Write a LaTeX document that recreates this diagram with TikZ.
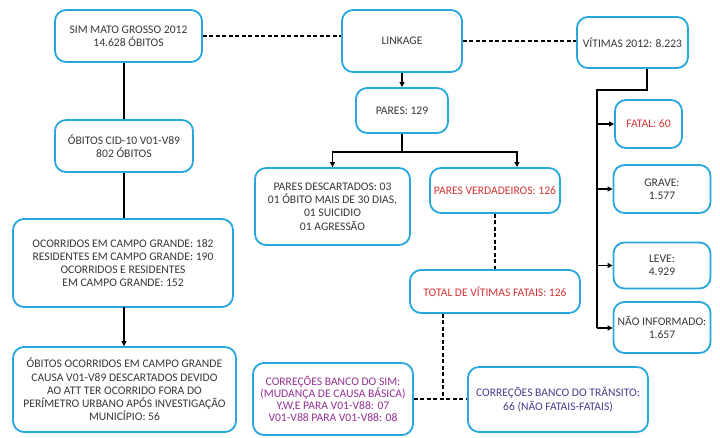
\documentclass[tikz,border=0pt]{standalone}
\usepackage{fontspec}
\setmainfont{Carlito}
\usetikzlibrary{arrows.meta}
\definecolor{boxblue}{RGB}{38,168,222}
\definecolor{txtgray}{RGB}{55,55,55}
\definecolor{txtred}{RGB}{214,52,52}
\definecolor{txtmag}{RGB}{150,48,150}
\definecolor{txtind}{RGB}{78,58,140}
\tikzset{
  box/.style={draw=boxblue, line width=1.8pt, rounded corners=11pt, fill=white,
    align=center, inner sep=2pt, text=txtgray,
    font=\fontsize{11.6}{13.2}\selectfont},
  link/.style={line width=1.8pt, black},
  dlink/.style={line width=1.6pt, black, dash pattern=on 4pt off 2.5pt},
  arr/.style={link, -{Triangle[length=5pt,width=5pt]}}
}
\begin{document}
\begin{tikzpicture}[x=1pt,y=-1pt]
\useasboundingbox (0,0) rectangle (720,437);
\fill[white] (0,0) rectangle (720,437);

% left column: SIM chain
\node[box, minimum width=147pt, minimum height=52pt] (sim) at (128.5,36)
  {SIM MATO GROSSO 2012\\14.628 ÓBITOS};
\node[box, minimum width=138pt, minimum height=52pt] (cid) at (124,146)
  {ÓBITOS CID-10 V01-V89\\802 ÓBITOS};
\node[box, minimum width=220pt, minimum height=88pt] (ocor) at (123,263)
  {OCORRIDOS EM CAMPO GRANDE: 182\\RESIDENTES EM CAMPO GRANDE: 190\\OCORRIDOS E RESIDENTES\\ EM CAMPO GRANDE: 152};
\node[box, minimum width=223pt, minimum height=85pt] (mun) at (124.5,389.5)
  {ÓBITOS OCORRIDOS EM CAMPO GRANDE\\CAUSA V01-V89 DESCARTADOS DEVIDO\\AO ATT TER OCORRIDO FORA DO\\PERÍMETRO URBANO APÓS INVESTIGAÇÃO\\MUNICÍPIO: 56};

% middle column: linkage
\node[box, minimum width=120pt, minimum height=62pt] (lnk) at (402,41) {LINKAGE};
\node[box, minimum width=92pt, minimum height=45pt] (pares) at (402,110.5) {PARES: 129};
\node[box, minimum width=155pt, minimum height=77pt] (desc) at (332.5,206.5)
  {PARES DESCARTADOS: 03\\01 ÓBITO MAIS DE 30 DIAS,\\01 SUICIDIO\\01 AGRESSÃO};
\node[box, minimum width=130pt, minimum height=45pt, text=txtred] (verd) at (495,190.5)
  {PARES VERDADEIROS: 126};
\node[box, minimum width=170pt, minimum height=43pt, text=txtred] (total) at (495,291.5)
  {TOTAL DE VÍTIMAS FATAIS: 126};
\node[box, minimum width=160pt, minimum height=72pt, text=txtmag,
  font=\fontsize{11.6}{12}\selectfont] (csim) at (333,399)
  {CORREÇÕES BANCO DO SIM:\\(MUDANÇA DE CAUSA BÁSICA)\\Y,W,E PARA V01-V88: 07\\V01-V88 PARA V01-V88: 08};
\node[box, minimum width=180pt, minimum height=65pt, text=txtind] (ctran) at (558,399.5)
  {CORREÇÕES BANCO DO TRÂNSITO:\\66 (NÃO FATAIS-FATAIS)};

% right column: victims
\node[box, minimum width=111pt, minimum height=51pt] (vit) at (632.5,42.5) {VÍTIMAS 2012: 8.223};
\node[box, minimum width=67pt, minimum height=48pt, text=txtred] (fatal) at (648.5,124) {FATAL: 60};
\node[box, minimum width=97pt, minimum height=48pt] (grave) at (662,189) {GRAVE:\\1.577};
\node[box, minimum width=97pt, minimum height=46pt] (leve) at (662,265.5) {LEVE:\\4.929};
\node[box, minimum width=97pt, minimum height=51pt] (nao) at (662,327.5) {NÃO INFORMADO:\\1.657};

% dashed links between the sources
\draw[dlink] (sim.east) -- (sim.east -| lnk.west);
\draw[dlink] (lnk.east) -- (lnk.east -| vit.west);

% SIM chain
\draw[link] (cid.north) -- (cid.north |- sim.south);
\draw[link] (cid.south) -- (cid.south |- ocor.north);
\coordinate (oa) at (124,307);
\draw[arr] (oa) -- (oa |- mun.north);

% linkage tree
\coordinate (pj) at (402,152);
\coordinate (pl) at (332.5,152);
\coordinate (pr) at (517,152);
\draw[arr] (lnk.south) -- (pares.north);
\draw[link] (pares.south) -- (pj);
\draw[arr] (pj) -- (pl) -- (desc.north);
\draw[arr] (pj) -- (pr) -- (pr |- verd.north);
\draw[dlink] (verd.south) -- (total.north);
\coordinate (tj) at (443,397);
\draw[dlink] (total.south -| tj) -- (tj);
\draw[dlink] (csim.east) -- (csim.east -| ctran.west);

% victims tree
\coordinate (va) at (647,90);
\coordinate (vb) at (597,90);
\coordinate (vc) at (597,328);
\draw[link] (vit.south -| va) -- (va) -- (vb) -- (vc);
\draw[arr] (vb |- fatal.west) -- (fatal.west);
\draw[arr] (vb |- grave.west) -- (grave.west);
\draw[arr] (vb |- leve.west) -- (leve.west);
\draw[arr] (vc) -- (vc -| nao.west);
\end{tikzpicture}
\end{document}
